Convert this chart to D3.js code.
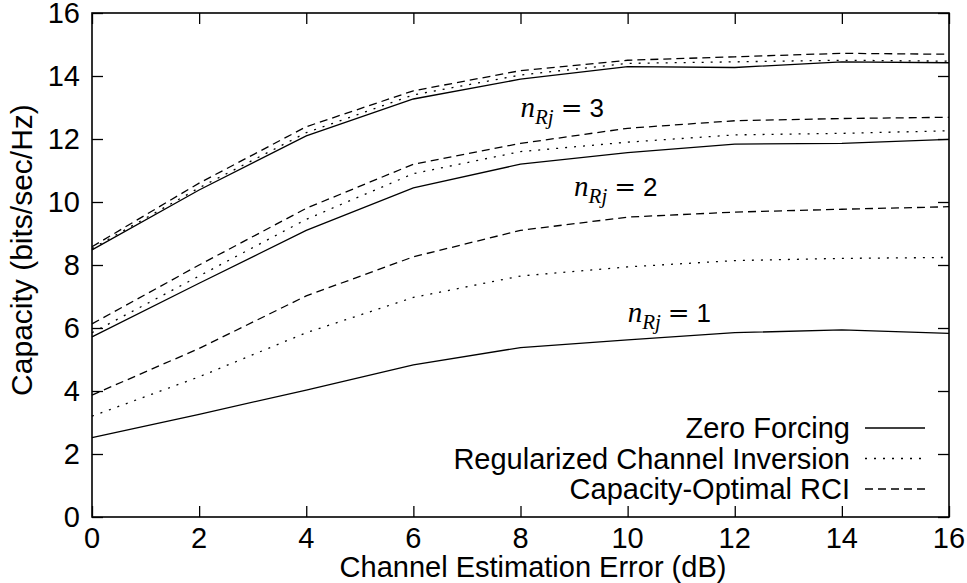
<!DOCTYPE html>
<html>
<head>
<meta charset="utf-8">
<script src="https://cdn.jsdelivr.net/npm/d3@7"></script>
<style>
  body { margin: 0; background: #fff; }
  text { font-family: "Liberation Sans", Arial, sans-serif; fill: #000; }
</style>
</head>
<body>
<div id="chart"></div>
<script>
// channel estimation error (dB)
var errors = [0, 2, 4, 6, 8, 10, 12, 14, 16];

// capacity, n_Rj = 1
var zf1 = [2.52, 3.26, 4.03, 4.83, 5.38, 5.62, 5.85, 5.94, 5.83];
var rci1 = [3.2, 4.45, 5.85, 6.97, 7.65, 7.94, 8.14, 8.21, 8.24];
var opt1 = [3.87, 5.35, 7.02, 8.26, 9.1, 9.52, 9.68, 9.77, 9.85];
// n_Rj = 2
var zf2 = [5.72, 7.42, 9.1, 10.45, 11.2, 11.57, 11.84, 11.86, 11.99];
var rci2 = [5.85, 7.65, 9.45, 10.9, 11.6, 11.9, 12.13, 12.18, 12.26];
var opt2 = [6.13, 8.0, 9.8, 11.2, 11.86, 12.34, 12.58, 12.65, 12.69];
// n_Rj = 3
var zf3 = [8.48, 10.38, 12.1, 13.27, 13.9, 14.3, 14.27, 14.45, 14.42];
var rci3 = [8.52, 10.45, 12.2, 13.4, 14.03, 14.4, 14.45, 14.5, 14.47];
var opt3 = [8.58, 10.6, 12.39, 13.53, 14.17, 14.5, 14.61, 14.72, 14.69];

var xTicks = [0, 2, 4, 6, 8, 10, 12, 14, 16];
var yTicks = [0, 2, 4, 6, 8, 10, 12, 14, 16];
var legendNames = ["Zero Forcing", "Regularized Channel Inversion", "Capacity-Optimal RCI"];
var nLabels = ["1", "2", "3"];

var dashes = ["none", "2,7", "8,5"];

var width = 967, height = 583;
var margin = { top: 13, right: 18, bottom: 66, left: 92 };

var svg = d3.select("#chart").append("svg")
  .attr("width", width)
  .attr("height", height);

var x = d3.scaleLinear([0, 16], [margin.left, width - margin.right]);
var y = d3.scaleLinear([0, 16], [height - margin.bottom, margin.top]);

var tickLen = 11;

// axes, ticks point inward, mirrored on top and right
svg.append("g")
  .attr("transform", `translate(0, ${height - margin.bottom})`)
  .call(d3.axisTop(x).tickValues(xTicks).tickSize(tickLen).tickFormat(""))
  .call(g => g.select(".domain").remove());
svg.append("g")
  .attr("transform", `translate(0, ${margin.top})`)
  .call(d3.axisBottom(x).tickValues(xTicks).tickSize(tickLen).tickFormat(""))
  .call(g => g.select(".domain").remove());
svg.append("g")
  .attr("transform", `translate(${margin.left}, 0)`)
  .call(d3.axisRight(y).tickValues(yTicks).tickSize(tickLen).tickFormat(""))
  .call(g => g.select(".domain").remove());
svg.append("g")
  .attr("transform", `translate(${width - margin.right}, 0)`)
  .call(d3.axisLeft(y).tickValues(yTicks).tickSize(tickLen).tickFormat(""))
  .call(g => g.select(".domain").remove());
svg.selectAll(".tick line").attr("stroke", "#000").attr("stroke-width", 1.3);

// tick labels
svg.append("g").selectAll("text")
  .data(xTicks)
  .join("text")
  .attr("x", d => x(d))
  .attr("y", height - margin.bottom + 31)
  .attr("text-anchor", "middle")
  .style("font-size", "29px")
  .text(d => d);
svg.append("g").selectAll("text")
  .data(yTicks)
  .join("text")
  .attr("x", margin.left - 12)
  .attr("y", d => y(d) + 10)
  .attr("text-anchor", "end")
  .style("font-size", "29px")
  .text(d => d);

// frame
svg.append("rect")
  .attr("x", margin.left)
  .attr("y", margin.top)
  .attr("width", width - margin.left - margin.right)
  .attr("height", height - margin.top - margin.bottom)
  .attr("fill", "none")
  .attr("stroke", "#000")
  .attr("stroke-width", 1.6);

// titles
svg.append("text")
  .attr("x", 533)
  .attr("y", height - 6)
  .attr("text-anchor", "middle")
  .style("font-size", "29px")
  .text("Channel Estimation Error (dB)");
svg.append("text")
  .attr("transform", "translate(32, 250) rotate(-90)")
  .attr("text-anchor", "middle")
  .style("font-size", "30px")
  .text("Capacity (bits/sec/Hz)");

// curves
var groups = [
  [zf1, rci1, opt1],
  [zf2, rci2, opt2],
  [zf3, rci3, opt3]
];
var line = d3.line()
  .x((d, i) => x(errors[i]))
  .y(d => y(d));

groups.forEach(function (g) {
  g.forEach(function (series, k) {
    svg.append("path")
      .datum(series)
      .attr("d", line)
      .attr("fill", "none")
      .attr("stroke", "#000")
      .attr("stroke-width", 1.3)
      .attr("stroke-dasharray", dashes[k]);
  });
});

// n_Rj labels, placed in data coordinates
var labelPos = [[10.0, 6.19], [9.0, 10.19], [8.0, 12.7]];
nLabels.forEach(function (lab, i) {
  var t = svg.append("text")
    .attr("x", x(labelPos[i][0]))
    .attr("y", y(labelPos[i][1]));
  t.append("tspan")
    .style("font-family", "'Liberation Serif', 'DejaVu Serif', serif")
    .style("font-style", "italic")
    .style("font-size", "29px")
    .text("n");
  t.append("tspan")
    .attr("dy", 7)
    .style("font-family", "'Liberation Serif', 'DejaVu Serif', serif")
    .style("font-style", "italic")
    .style("font-size", "21px")
    .text("Rj");
  t.append("tspan")
    .attr("dy", -7)
    .attr("dx", 7)
    .style("font-family", "'DejaVu Serif', serif")
    .style("font-size", "26px")
    .text("=");
  t.append("tspan")
    .attr("dx", 7)
    .style("font-size", "26px")
    .text(lab);
});

// legend
var legendRight = 850;
legendNames.forEach(function (name, k) {
  var ly = 428 + k * 30.5;
  svg.append("text")
    .attr("x", legendRight)
    .attr("y", ly + 10)
    .attr("text-anchor", "end")
    .style("font-size", "29px")
    .text(name);
  svg.append("line")
    .attr("x1", 865)
    .attr("x2", 925)
    .attr("y1", ly)
    .attr("y2", ly)
    .attr("stroke", "#000")
    .attr("stroke-width", 1.3)
    .attr("stroke-dasharray", dashes[k]);
});
</script>
</body>
</html>
